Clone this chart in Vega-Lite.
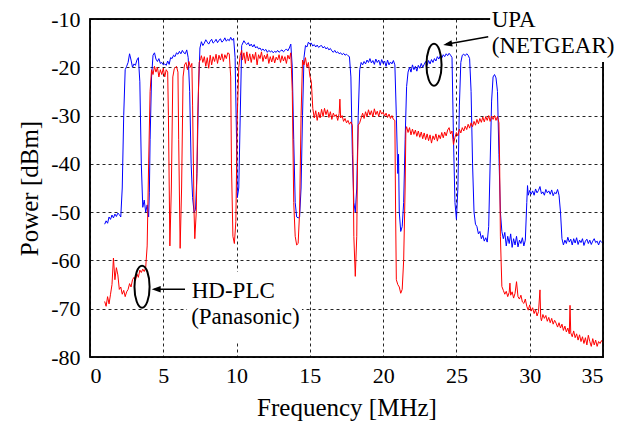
{
"$schema":"https://vega.github.io/schema/vega-lite/v6.json",
"width":513,"height":338,
"autosize":{"type":"none"},
"padding":{"left":90,"top":19,"right":14,"bottom":66},
"background":"white",
"config":{"font":"Liberation Serif","view":{"stroke":"#000","strokeWidth":1.5},"axis":{"labelFont":"Liberation Serif","titleFont":"Liberation Serif"},"text":{"font":"Liberation Serif"}},
"datasets":{
"upa":[{"f":1.0,"p":-52.5},{"f":1.1,"p":-51.8},{"f":1.2,"p":-52.3},{"f":1.3,"p":-51},{"f":1.4,"p":-51.5},{"f":1.5,"p":-50.6},{"f":1.6,"p":-51.2},{"f":1.7,"p":-50.4},{"f":1.8,"p":-50.9},{"f":1.9,"p":-50.2},{"f":2.0,"p":-50.5},{"f":2.1,"p":-51},{"f":2.2,"p":-45},{"f":2.3,"p":-30},{"f":2.4,"p":-20.5},{"f":2.5,"p":-19.8},{"f":2.6,"p":-19},{"f":2.7,"p":-17.2},{"f":2.8,"p":-18.5},{"f":2.9,"p":-20},{"f":3.0,"p":-19.3},{"f":3.1,"p":-19.6},{"f":3.2,"p":-18.5},{"f":3.3,"p":-18},{"f":3.4,"p":-23},{"f":3.5,"p":-40},{"f":3.6,"p":-49},{"f":3.7,"p":-47.5},{"f":3.8,"p":-50},{"f":3.9,"p":-48.5},{"f":4.0,"p":-51},{"f":4.05,"p":-46},{"f":4.1,"p":-35},{"f":4.2,"p":-22},{"f":4.3,"p":-17.5},{"f":4.4,"p":-17},{"f":4.5,"p":-18.3},{"f":4.6,"p":-18.8},{"f":4.7,"p":-18.2},{"f":4.8,"p":-19.2},{"f":4.9,"p":-19},{"f":5.0,"p":-19.5},{"f":5.1,"p":-19.3},{"f":5.2,"p":-19.6},{"f":5.3,"p":-18.7},{"f":5.4,"p":-19.4},{"f":5.5,"p":-18},{"f":5.6,"p":-18.2},{"f":5.7,"p":-17.5},{"f":5.8,"p":-17.8},{"f":5.9,"p":-17},{"f":6.0,"p":-17.3},{"f":6.1,"p":-16.7},{"f":6.2,"p":-17.2},{"f":6.3,"p":-16.5},{"f":6.4,"p":-17},{"f":6.5,"p":-17.2},{"f":6.6,"p":-16.4},{"f":6.7,"p":-18},{"f":6.8,"p":-25},{"f":6.9,"p":-40},{"f":7.0,"p":-47},{"f":7.1,"p":-50},{"f":7.2,"p":-49.5},{"f":7.3,"p":-42},{"f":7.4,"p":-25},{"f":7.5,"p":-16},{"f":7.6,"p":-14.7},{"f":7.7,"p":-15.5},{"f":7.8,"p":-15},{"f":7.9,"p":-14.3},{"f":8.0,"p":-14.8},{"f":8.1,"p":-15.2},{"f":8.2,"p":-14.6},{"f":8.3,"p":-14.2},{"f":8.4,"p":-15},{"f":8.5,"p":-14.7},{"f":8.6,"p":-14.2},{"f":8.7,"p":-14.9},{"f":8.8,"p":-14.4},{"f":8.9,"p":-14.1},{"f":9.0,"p":-14.8},{"f":9.1,"p":-14.5},{"f":9.2,"p":-13.9},{"f":9.3,"p":-14.6},{"f":9.4,"p":-14.2},{"f":9.5,"p":-14.5},{"f":9.6,"p":-13.8},{"f":9.7,"p":-14.4},{"f":9.8,"p":-14},{"f":9.9,"p":-18},{"f":10.0,"p":-35},{"f":10.05,"p":-47},{"f":10.15,"p":-45},{"f":10.25,"p":-30},{"f":10.35,"p":-15.5},{"f":10.5,"p":-14.5},{"f":10.6,"p":-15},{"f":10.7,"p":-15.3},{"f":10.8,"p":-14.9},{"f":10.9,"p":-15.6},{"f":11.0,"p":-15.2},{"f":11.1,"p":-15.8},{"f":11.2,"p":-15.3},{"f":11.3,"p":-16},{"f":11.4,"p":-15.7},{"f":11.5,"p":-16.2},{"f":11.6,"p":-16},{"f":11.7,"p":-16.5},{"f":11.8,"p":-16.2},{"f":11.9,"p":-16.6},{"f":12.0,"p":-16.3},{"f":12.1,"p":-16.9},{"f":12.2,"p":-16.5},{"f":12.3,"p":-16.8},{"f":12.4,"p":-16.6},{"f":12.5,"p":-17},{"f":12.6,"p":-16.7},{"f":12.7,"p":-16.9},{"f":12.8,"p":-16.5},{"f":12.9,"p":-16.9},{"f":13.0,"p":-16.6},{"f":13.1,"p":-16.4},{"f":13.2,"p":-16.8},{"f":13.3,"p":-16.5},{"f":13.4,"p":-16.2},{"f":13.5,"p":-16.6},{"f":13.6,"p":-16},{"f":13.7,"p":-15.2},{"f":13.8,"p":-20},{"f":13.9,"p":-35},{"f":14.0,"p":-48},{"f":14.1,"p":-51},{"f":14.2,"p":-51.2},{"f":14.3,"p":-51},{"f":14.4,"p":-45},{"f":14.5,"p":-30},{"f":14.6,"p":-18},{"f":14.7,"p":-15.5},{"f":14.8,"p":-15.8},{"f":14.9,"p":-14.8},{"f":15.0,"p":-15.2},{"f":15.1,"p":-15},{"f":15.2,"p":-15.6},{"f":15.3,"p":-15.3},{"f":15.4,"p":-15.8},{"f":15.5,"p":-15.4},{"f":15.6,"p":-15.9},{"f":15.7,"p":-15.6},{"f":15.8,"p":-15.5},{"f":15.9,"p":-16},{"f":16.0,"p":-15.7},{"f":16.1,"p":-16.2},{"f":16.2,"p":-15.9},{"f":16.3,"p":-16.4},{"f":16.4,"p":-16.1},{"f":16.5,"p":-16.6},{"f":16.6,"p":-16.9},{"f":16.7,"p":-16.5},{"f":16.8,"p":-17},{"f":16.9,"p":-16.8},{"f":17.0,"p":-17.2},{"f":17.1,"p":-17},{"f":17.2,"p":-17.4},{"f":17.3,"p":-17.1},{"f":17.4,"p":-17.5},{"f":17.5,"p":-17.3},{"f":17.6,"p":-17.6},{"f":17.7,"p":-17.8},{"f":17.8,"p":-22},{"f":17.9,"p":-38},{"f":18.0,"p":-48},{"f":18.1,"p":-50},{"f":18.2,"p":-45},{"f":18.3,"p":-30},{"f":18.4,"p":-20.5},{"f":18.5,"p":-19},{"f":18.6,"p":-19.5},{"f":18.7,"p":-18.8},{"f":18.8,"p":-19.3},{"f":18.9,"p":-18.5},{"f":19.0,"p":-19},{"f":19.1,"p":-18.2},{"f":19.2,"p":-19.1},{"f":19.3,"p":-18.6},{"f":19.4,"p":-19.4},{"f":19.5,"p":-18.3},{"f":19.6,"p":-19},{"f":19.7,"p":-18.5},{"f":19.8,"p":-19.6},{"f":19.9,"p":-18.4},{"f":20.0,"p":-19.2},{"f":20.1,"p":-18.7},{"f":20.2,"p":-19.8},{"f":20.3,"p":-18.5},{"f":20.4,"p":-19.5},{"f":20.5,"p":-18.9},{"f":20.6,"p":-19.3},{"f":20.7,"p":-18.6},{"f":20.8,"p":-19.5},{"f":20.9,"p":-30},{"f":21.0,"p":-42},{"f":21.05,"p":-38},{"f":21.1,"p":-50},{"f":21.2,"p":-54},{"f":21.3,"p":-53},{"f":21.4,"p":-48},{"f":21.5,"p":-35},{"f":21.6,"p":-24},{"f":21.7,"p":-21},{"f":21.8,"p":-20},{"f":21.9,"p":-21},{"f":22.0,"p":-19.5},{"f":22.1,"p":-20.5},{"f":22.2,"p":-19.8},{"f":22.3,"p":-20.8},{"f":22.4,"p":-19.6},{"f":22.5,"p":-20.2},{"f":22.6,"p":-19.2},{"f":22.7,"p":-20},{"f":22.8,"p":-19.4},{"f":22.9,"p":-18.8},{"f":23.0,"p":-19.6},{"f":23.1,"p":-18.6},{"f":23.2,"p":-19.3},{"f":23.3,"p":-18.4},{"f":23.4,"p":-19},{"f":23.5,"p":-18.2},{"f":23.6,"p":-18.7},{"f":23.7,"p":-17.8},{"f":23.8,"p":-18.3},{"f":23.9,"p":-17.6},{"f":24.0,"p":-18.1},{"f":24.1,"p":-17.4},{"f":24.2,"p":-17.8},{"f":24.3,"p":-17.2},{"f":24.4,"p":-17.6},{"f":24.5,"p":-17.1},{"f":24.6,"p":-17.5},{"f":24.7,"p":-18},{"f":24.8,"p":-35},{"f":24.9,"p":-48},{"f":25.0,"p":-51.5},{"f":25.1,"p":-45},{"f":25.2,"p":-28},{"f":25.3,"p":-19},{"f":25.4,"p":-17.5},{"f":25.5,"p":-17.3},{"f":25.6,"p":-17.6},{"f":25.7,"p":-17.2},{"f":25.8,"p":-17.5},{"f":25.9,"p":-18.2},{"f":26.0,"p":-25},{"f":26.1,"p":-40},{"f":26.2,"p":-50},{"f":26.3,"p":-52.5},{"f":26.4,"p":-53},{"f":26.5,"p":-54.5},{"f":26.6,"p":-54},{"f":26.7,"p":-55.5},{"f":26.8,"p":-54.8},{"f":26.9,"p":-56},{"f":27.0,"p":-55.3},{"f":27.1,"p":-56.2},{"f":27.2,"p":-53},{"f":27.3,"p":-40},{"f":27.4,"p":-27},{"f":27.5,"p":-22},{"f":27.6,"p":-21.5},{"f":27.7,"p":-22.2},{"f":27.8,"p":-25},{"f":27.9,"p":-38},{"f":28.0,"p":-50},{"f":28.1,"p":-54},{"f":28.2,"p":-55.5},{"f":28.3,"p":-54.2},{"f":28.4,"p":-57},{"f":28.5,"p":-55},{"f":28.6,"p":-56.5},{"f":28.7,"p":-54.5},{"f":28.8,"p":-57.3},{"f":28.9,"p":-55.5},{"f":29.0,"p":-56.8},{"f":29.1,"p":-55},{"f":29.2,"p":-57.2},{"f":29.3,"p":-55.8},{"f":29.4,"p":-56.5},{"f":29.5,"p":-55.3},{"f":29.6,"p":-57},{"f":29.7,"p":-55.8},{"f":29.8,"p":-48},{"f":29.85,"p":-44.5},{"f":29.9,"p":-46.5},{"f":30.0,"p":-45.5},{"f":30.1,"p":-46.3},{"f":30.2,"p":-45.6},{"f":30.3,"p":-46.5},{"f":30.4,"p":-45.2},{"f":30.5,"p":-46},{"f":30.6,"p":-45.5},{"f":30.7,"p":-44.7},{"f":30.8,"p":-46.2},{"f":30.9,"p":-45.8},{"f":31.0,"p":-46.5},{"f":31.1,"p":-45.3},{"f":31.2,"p":-46},{"f":31.3,"p":-45.6},{"f":31.4,"p":-46.3},{"f":31.5,"p":-45.4},{"f":31.6,"p":-46.6},{"f":31.7,"p":-45.9},{"f":31.8,"p":-46.2},{"f":31.9,"p":-45.3},{"f":32.0,"p":-46.5},{"f":32.1,"p":-50},{"f":32.2,"p":-55.5},{"f":32.3,"p":-56.8},{"f":32.4,"p":-55.8},{"f":32.5,"p":-56.5},{"f":32.6,"p":-55.2},{"f":32.7,"p":-56.2},{"f":32.8,"p":-55.6},{"f":32.9,"p":-56.8},{"f":33.0,"p":-55.5},{"f":33.1,"p":-56.4},{"f":33.2,"p":-55.3},{"f":33.3,"p":-56.7},{"f":33.4,"p":-55.8},{"f":33.5,"p":-56.3},{"f":33.6,"p":-55.5},{"f":33.7,"p":-56.9},{"f":33.8,"p":-56},{"f":33.9,"p":-55.6},{"f":34.0,"p":-56.5},{"f":34.1,"p":-55.8},{"f":34.2,"p":-56.7},{"f":34.3,"p":-56},{"f":34.4,"p":-55.5},{"f":34.5,"p":-56.3},{"f":34.6,"p":-56},{"f":34.7,"p":-56.8},{"f":34.8,"p":-55.9},{"f":34.9,"p":-56.2},{"f":35.0,"p":-56.4}],
"plc":[{"f":1.0,"p":-68.5},{"f":1.1,"p":-69.5},{"f":1.2,"p":-67.5},{"f":1.3,"p":-69},{"f":1.4,"p":-67},{"f":1.5,"p":-65},{"f":1.6,"p":-59.5},{"f":1.7,"p":-64},{"f":1.8,"p":-61.5},{"f":1.9,"p":-63},{"f":2.0,"p":-66},{"f":2.1,"p":-65.5},{"f":2.2,"p":-67},{"f":2.3,"p":-66.2},{"f":2.4,"p":-67.5},{"f":2.5,"p":-66.5},{"f":2.6,"p":-66},{"f":2.7,"p":-64.8},{"f":2.8,"p":-65.5},{"f":2.9,"p":-64},{"f":3.0,"p":-63.5},{"f":3.1,"p":-64.2},{"f":3.2,"p":-62.8},{"f":3.3,"p":-63.5},{"f":3.4,"p":-62},{"f":3.5,"p":-62.5},{"f":3.6,"p":-61.8},{"f":3.7,"p":-62.3},{"f":3.8,"p":-61.5},{"f":3.9,"p":-57},{"f":4.0,"p":-40},{"f":4.1,"p":-25},{"f":4.2,"p":-20.5},{"f":4.3,"p":-21.5},{"f":4.4,"p":-19.8},{"f":4.5,"p":-21},{"f":4.6,"p":-20},{"f":4.7,"p":-22},{"f":4.8,"p":-20.5},{"f":4.9,"p":-21.5},{"f":5.0,"p":-20.2},{"f":5.1,"p":-22},{"f":5.2,"p":-20.5},{"f":5.3,"p":-21},{"f":5.35,"p":-30},{"f":5.45,"p":-57},{"f":5.55,"p":-45},{"f":5.65,"p":-22},{"f":5.75,"p":-20.3},{"f":5.9,"p":-19.8},{"f":6.0,"p":-21},{"f":6.05,"p":-35},{"f":6.15,"p":-57.5},{"f":6.25,"p":-45},{"f":6.35,"p":-22},{"f":6.45,"p":-19.5},{"f":6.55,"p":-19},{"f":6.65,"p":-20.5},{"f":6.75,"p":-18.8},{"f":6.85,"p":-20},{"f":6.95,"p":-19.2},{"f":7.0,"p":-28},{"f":7.1,"p":-50},{"f":7.15,"p":-55.5},{"f":7.25,"p":-50},{"f":7.35,"p":-30},{"f":7.45,"p":-19},{"f":7.55,"p":-18.2},{"f":7.6,"p":-17.6},{"f":7.7,"p":-19},{"f":7.8,"p":-17.8},{"f":7.9,"p":-19.8},{"f":8.0,"p":-18},{"f":8.1,"p":-20.2},{"f":8.2,"p":-17.5},{"f":8.3,"p":-19.5},{"f":8.4,"p":-17.8},{"f":8.5,"p":-18.8},{"f":8.6,"p":-17.3},{"f":8.7,"p":-19.2},{"f":8.8,"p":-17.5},{"f":8.9,"p":-18.5},{"f":9.0,"p":-17.2},{"f":9.1,"p":-18.8},{"f":9.2,"p":-17.4},{"f":9.3,"p":-18.2},{"f":9.4,"p":-17},{"f":9.5,"p":-17.2},{"f":9.6,"p":-22},{"f":9.65,"p":-40},{"f":9.75,"p":-55},{"f":9.85,"p":-56.5},{"f":9.95,"p":-52},{"f":10.05,"p":-30},{"f":10.15,"p":-20},{"f":10.25,"p":-17.5},{"f":10.35,"p":-16.5},{"f":10.4,"p":-18.5},{"f":10.5,"p":-17},{"f":10.6,"p":-19.2},{"f":10.7,"p":-16.8},{"f":10.8,"p":-18.7},{"f":10.9,"p":-17.2},{"f":11.0,"p":-19},{"f":11.1,"p":-17.3},{"f":11.2,"p":-18.4},{"f":11.3,"p":-16.9},{"f":11.4,"p":-19.5},{"f":11.5,"p":-17.4},{"f":11.6,"p":-18.2},{"f":11.7,"p":-16.8},{"f":11.8,"p":-18.8},{"f":11.9,"p":-17.5},{"f":12.0,"p":-18.3},{"f":12.1,"p":-17.2},{"f":12.2,"p":-19.2},{"f":12.3,"p":-17.8},{"f":12.4,"p":-18.9},{"f":12.5,"p":-17.6},{"f":12.6,"p":-19.1},{"f":12.7,"p":-17.9},{"f":12.8,"p":-18.5},{"f":12.9,"p":-17.4},{"f":13.0,"p":-19},{"f":13.1,"p":-17.6},{"f":13.2,"p":-18.7},{"f":13.3,"p":-17.8},{"f":13.4,"p":-19.2},{"f":13.5,"p":-17.5},{"f":13.6,"p":-18.3},{"f":13.7,"p":-17},{"f":13.8,"p":-25},{"f":13.9,"p":-48},{"f":14.0,"p":-55},{"f":14.1,"p":-56.8},{"f":14.2,"p":-56.5},{"f":14.3,"p":-50},{"f":14.4,"p":-30},{"f":14.5,"p":-18.5},{"f":14.6,"p":-19.5},{"f":14.7,"p":-18},{"f":14.8,"p":-20},{"f":14.9,"p":-19},{"f":15.0,"p":-21.8},{"f":15.1,"p":-23},{"f":15.2,"p":-28.5},{"f":15.3,"p":-30.5},{"f":15.4,"p":-29},{"f":15.5,"p":-31},{"f":15.6,"p":-29.3},{"f":15.7,"p":-30.5},{"f":15.8,"p":-28.7},{"f":15.9,"p":-30.2},{"f":16.0,"p":-28.5},{"f":16.1,"p":-29.8},{"f":16.2,"p":-28.8},{"f":16.3,"p":-30.4},{"f":16.4,"p":-29.2},{"f":16.5,"p":-30.8},{"f":16.6,"p":-29.5},{"f":16.7,"p":-30.2},{"f":16.8,"p":-29.8},{"f":16.9,"p":-31},{"f":17.0,"p":-29.6},{"f":17.05,"p":-26.6},{"f":17.1,"p":-30.5},{"f":17.2,"p":-30},{"f":17.3,"p":-31.2},{"f":17.4,"p":-30.6},{"f":17.5,"p":-31.5},{"f":17.6,"p":-31},{"f":17.7,"p":-31.8},{"f":17.8,"p":-31.3},{"f":17.9,"p":-32},{"f":17.95,"p":-40},{"f":18.0,"p":-55},{"f":18.1,"p":-63.3},{"f":18.2,"p":-55},{"f":18.25,"p":-40},{"f":18.3,"p":-32},{"f":18.4,"p":-31.5},{"f":18.5,"p":-30.5},{"f":18.6,"p":-29.5},{"f":18.7,"p":-30.6},{"f":18.8,"p":-29.2},{"f":18.9,"p":-30.2},{"f":19.0,"p":-28.8},{"f":19.1,"p":-29.9},{"f":19.2,"p":-29},{"f":19.3,"p":-30.3},{"f":19.4,"p":-28.6},{"f":19.5,"p":-29.8},{"f":19.6,"p":-29.1},{"f":19.7,"p":-30.2},{"f":19.8,"p":-28.9},{"f":19.9,"p":-29.7},{"f":20.0,"p":-29.3},{"f":20.1,"p":-30.1},{"f":20.2,"p":-29.5},{"f":20.3,"p":-30.4},{"f":20.4,"p":-29.7},{"f":20.5,"p":-30.6},{"f":20.6,"p":-30},{"f":20.7,"p":-30.8},{"f":20.8,"p":-31},{"f":20.85,"p":-50},{"f":20.9,"p":-64},{"f":21.0,"p":-65},{"f":21.1,"p":-65.5},{"f":21.2,"p":-66.8},{"f":21.3,"p":-66},{"f":21.4,"p":-60},{"f":21.5,"p":-45},{"f":21.55,"p":-33},{"f":21.6,"p":-32.3},{"f":21.7,"p":-33.5},{"f":21.8,"p":-32.5},{"f":21.9,"p":-34},{"f":22.0,"p":-32.8},{"f":22.1,"p":-33.9},{"f":22.2,"p":-33},{"f":22.3,"p":-34.3},{"f":22.4,"p":-33.2},{"f":22.5,"p":-34.5},{"f":22.6,"p":-33.4},{"f":22.7,"p":-34.8},{"f":22.8,"p":-33.6},{"f":22.9,"p":-35},{"f":23.0,"p":-33.8},{"f":23.1,"p":-35.2},{"f":23.2,"p":-34},{"f":23.3,"p":-35.7},{"f":23.4,"p":-34.2},{"f":23.5,"p":-35},{"f":23.6,"p":-33.8},{"f":23.7,"p":-35.3},{"f":23.8,"p":-34},{"f":23.9,"p":-34.8},{"f":24.0,"p":-33.5},{"f":24.1,"p":-34.6},{"f":24.2,"p":-33.4},{"f":24.3,"p":-34.2},{"f":24.4,"p":-33},{"f":24.5,"p":-32.5},{"f":24.6,"p":-33.8},{"f":24.7,"p":-33.2},{"f":24.8,"p":-36},{"f":24.9,"p":-34.5},{"f":25.0,"p":-33.5},{"f":25.1,"p":-34.2},{"f":25.2,"p":-32.8},{"f":25.3,"p":-33.6},{"f":25.4,"p":-32.5},{"f":25.5,"p":-33.2},{"f":25.6,"p":-32.2},{"f":25.7,"p":-32.9},{"f":25.8,"p":-31.8},{"f":25.9,"p":-32.6},{"f":26.0,"p":-31.5},{"f":26.1,"p":-32.3},{"f":26.2,"p":-31.2},{"f":26.3,"p":-32},{"f":26.4,"p":-30.8},{"f":26.5,"p":-31.7},{"f":26.6,"p":-30.6},{"f":26.7,"p":-31.4},{"f":26.8,"p":-30.3},{"f":26.9,"p":-31.3},{"f":27.0,"p":-30.2},{"f":27.1,"p":-31},{"f":27.2,"p":-30},{"f":27.3,"p":-31.2},{"f":27.4,"p":-30.1},{"f":27.5,"p":-30.8},{"f":27.6,"p":-30},{"f":27.7,"p":-31},{"f":27.8,"p":-30.2},{"f":27.9,"p":-31.5},{"f":27.95,"p":-40},{"f":28.0,"p":-55},{"f":28.1,"p":-65.4},{"f":28.2,"p":-66.2},{"f":28.3,"p":-67},{"f":28.4,"p":-66.4},{"f":28.5,"p":-67.5},{"f":28.6,"p":-66.6},{"f":28.65,"p":-64.7},{"f":28.7,"p":-67.2},{"f":28.8,"p":-66.5},{"f":28.9,"p":-67.8},{"f":29.0,"p":-66.8},{"f":29.1,"p":-64.4},{"f":29.2,"p":-67.5},{"f":29.3,"p":-68},{"f":29.4,"p":-67.2},{"f":29.5,"p":-68.6},{"f":29.6,"p":-68.9},{"f":29.7,"p":-68},{"f":29.8,"p":-69.5},{"f":29.9,"p":-70.3},{"f":30.0,"p":-69.2},{"f":30.1,"p":-70.5},{"f":30.2,"p":-69.8},{"f":30.3,"p":-71},{"f":30.4,"p":-70.2},{"f":30.5,"p":-71.5},{"f":30.6,"p":-70.6},{"f":30.7,"p":-66.1},{"f":30.75,"p":-71.8},{"f":30.8,"p":-72.5},{"f":30.9,"p":-71.2},{"f":31.0,"p":-72},{"f":31.1,"p":-71.4},{"f":31.2,"p":-72.6},{"f":31.3,"p":-71.8},{"f":31.4,"p":-72.9},{"f":31.5,"p":-72},{"f":31.6,"p":-73.2},{"f":31.7,"p":-72.4},{"f":31.8,"p":-73},{"f":31.9,"p":-73.8},{"f":32.0,"p":-72.9},{"f":32.1,"p":-74},{"f":32.2,"p":-73.2},{"f":32.3,"p":-74.5},{"f":32.4,"p":-73.6},{"f":32.5,"p":-74.8},{"f":32.6,"p":-74},{"f":32.7,"p":-75.2},{"f":32.75,"p":-69.3},{"f":32.8,"p":-75},{"f":32.9,"p":-75.8},{"f":33.0,"p":-74.6},{"f":33.1,"p":-76},{"f":33.2,"p":-75.2},{"f":33.3,"p":-76.5},{"f":33.4,"p":-75.4},{"f":33.5,"p":-76.8},{"f":33.6,"p":-75.8},{"f":33.7,"p":-77.2},{"f":33.8,"p":-76},{"f":33.9,"p":-77.5},{"f":34.0,"p":-75.5},{"f":34.1,"p":-76.8},{"f":34.2,"p":-77.8},{"f":34.3,"p":-76.2},{"f":34.4,"p":-77.5},{"f":34.5,"p":-76.5},{"f":34.6,"p":-77.8},{"f":34.7,"p":-76.8},{"f":34.8,"p":-77.2},{"f":34.9,"p":-76.6},{"f":35.0,"p":-77}],
"boxes":[{"f1":27.3,"f2":36.2,"p1":-5,"p2":-18.9},{"f1":6.62,"f2":14.46,"p1":-62.4,"p2":-76.9}],
"labels":[{"f":27.41,"p":-11.6,"t":"UPA"},{"f":27.41,"p":-17.1,"t":"(NETGEAR)"},{"f":6.94,"p":-67.84,"t":"HD-PLC"},{"f":6.9,"p":-73.2,"t":"(Panasonic)"}],
"arrows":[{"f1":27.17,"p1":-13.67,"f2":24.3,"p2":-15.25},{"f1":6.48,"p1":-65.97,"f2":4.4,"p2":-65.97}],
"ellipses":[{"f":23.47,"p":-19.46},{"f":3.55,"p":-65.43}],
"frame":[{"a":0,"b":35,"c":-80,"d":-10}]
},
"layer":[
{"data":{"name":"upa"},"mark":{"type":"line","color":"#0000ff","strokeWidth":1,"clip":true},
 "encoding":{
  "x":{"field":"f","type":"quantitative","scale":{"domain":[0,35],"nice":false,"zero":false},
   "axis":{"values":[0,5,10,15,20,25,30,35],"grid":true,"gridColor":"#000","gridDash":[3,3],"gridOpacity":0.85,"gridWidth":1,"domain":false,"ticks":false,"labelFont":"Liberation Serif","labelFontSize":22,"labelColor":"#000","labelPadding":8,"title":"Frequency [MHz]","titleFont":"Liberation Serif","titleFontSize":25,"titleFontWeight":"normal","titleColor":"#000","titlePadding":9}},
  "y":{"field":"p","type":"quantitative","scale":{"domain":[-80,-10],"nice":false,"zero":false},
   "axis":{"values":[-80,-70,-60,-50,-40,-30,-20,-10],"labelExpr":"'' + datum.value","grid":true,"gridColor":"#000","gridDash":[3,3],"gridOpacity":0.85,"gridWidth":1,"domain":false,"ticks":false,"labelFont":"Liberation Serif","labelFontSize":22,"labelColor":"#000","labelPadding":10,"title":"Power [dBm]","titleFont":"Liberation Serif","titleFontSize":25,"titleFontWeight":"normal","titleColor":"#000","titlePadding":8}}
 }},
{"data":{"name":"plc"},"mark":{"type":"line","color":"#ff0000","strokeWidth":1,"clip":true},
 "encoding":{"x":{"field":"f","type":"quantitative"},"y":{"field":"p","type":"quantitative"}}},
{"data":{"name":"frame"},"mark":{"type":"rect","fill":"transparent","stroke":"#000","strokeWidth":1.5,"strokeOpacity":1},
 "encoding":{"x":{"field":"a","type":"quantitative"},"x2":{"field":"b"},"y":{"field":"c","type":"quantitative"},"y2":{"field":"d"}}},
{"data":{"name":"boxes"},"mark":{"type":"rect","fill":"white","clip":false,"opacity":1},
 "encoding":{"x":{"field":"f1","type":"quantitative"},"x2":{"field":"f2"},"y":{"field":"p1","type":"quantitative"},"y2":{"field":"p2"}}},
{"data":{"name":"labels"},"mark":{"type":"text","align":"left","baseline":"alphabetic","font":"Liberation Serif","fontSize":23,"color":"#000","clip":false},
 "encoding":{"x":{"field":"f","type":"quantitative"},"y":{"field":"p","type":"quantitative"},"text":{"field":"t"}}},
{"data":{"name":"arrows"},"mark":{"type":"rule","color":"#000","strokeWidth":1.5},
 "encoding":{"x":{"field":"f1","type":"quantitative"},"y":{"field":"p1","type":"quantitative"},"x2":{"field":"f2"},"y2":{"field":"p2"}}},
{"data":{"values":[{"f":24.1,"p":-15.38}]},"mark":{"type":"point","shape":"M0,0L0.7,2L-0.7,2Z","size":81,"angle":259.6,"filled":true,"color":"#000","opacity":1},
 "encoding":{"x":{"field":"f","type":"quantitative"},"y":{"field":"p","type":"quantitative"}}},
{"data":{"values":[{"f":4.21,"p":-65.97}]},"mark":{"type":"point","shape":"M0,0L0.7,2L-0.7,2Z","size":81,"angle":270,"filled":true,"color":"#000","opacity":1},
 "encoding":{"x":{"field":"f","type":"quantitative"},"y":{"field":"p","type":"quantitative"}}},
{"data":{"name":"ellipses"},"mark":{"type":"point","shape":"M-0.36,0A0.36,1,0,1,0,0.36,0A0.36,1,0,1,0,-0.36,0Z","size":1764,"filled":false,"color":"#000","strokeWidth":2,"opacity":1},
 "encoding":{"x":{"field":"f","type":"quantitative"},"y":{"field":"p","type":"quantitative"}}}
]
}
